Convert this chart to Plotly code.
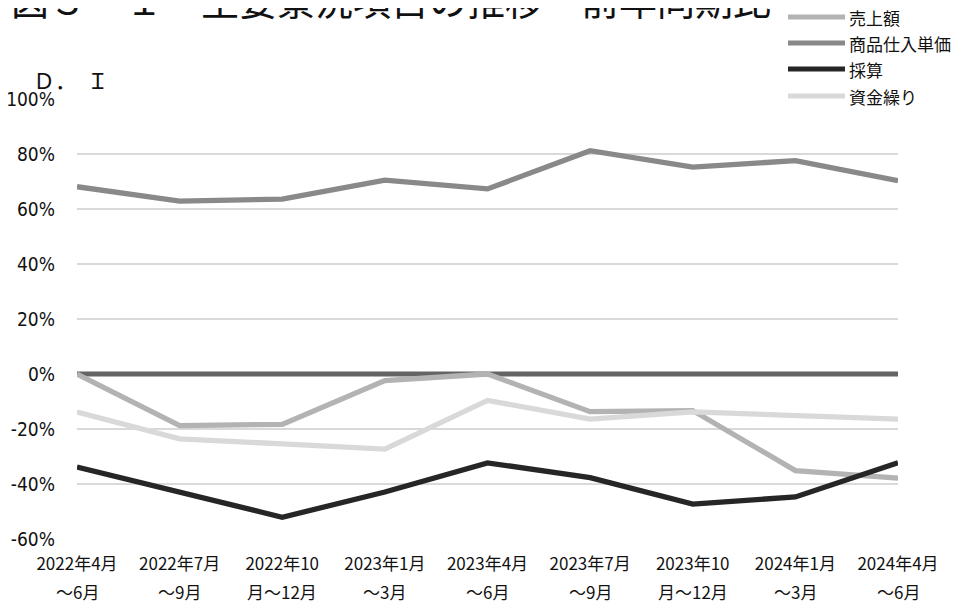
import plotly.graph_objects as go

# ---- data ----
cat_line1 = ["2022年4月", "2022年7月", "2022年10", "2023年1月", "2023年4月",
             "2023年7月", "2023年10", "2024年1月", "2024年4月"]
cat_line2 = ["～6月", "～9月", "月～12月", "～3月", "～6月",
             "～9月", "月～12月", "～3月", "～6月"]

series_names = ["売上額", "商品仕入単価", "採算", "資金繰り"]
sales = [0, -18.8, -18.3, -2.4, 0, -13.7, -13.3, -35.1, -37.9]
purchase_price = [68.1, 62.9, 63.6, 70.5, 67.3, 81.2, 75.2, 77.6, 70.3]
profit = [-33.8, -42.9, -52.1, -42.9, -32.3, -37.7, -47.3, -44.7, -32.3]
funding = [-13.8, -23.6, -25.4, -27.3, -9.6, -16.4, -13.8, -15.0, -16.4]
baseline = [0, 0, 0, 0, 0, 0, 0, 0, 0]

y_ticks = [-60, -40, -20, 0, 20, 40, 60, 80, 100]
title_text = "図３－１　主要景況項目の推移－前年同期比－"
y_title = "Ｄ．&nbsp;&nbsp;Ｉ"

# ---- styling ----
OFF = 8  # page body margin
W, H = 952, 595
L, R, T, B = 69, 62, 91, 64
PW, PH = W - L - R, H - T - B
colors = ["#b3b3b3", "#898989", "#262626", "#d9d9d9"]
base_color = "#646464"
jp = "Noto Sans CJK JP"


def px_x(px):
    return (px - OFF - L) / PW


def px_y(py):
    return (H - B - (py - OFF)) / PH


fig = go.Figure()
fig.add_trace(go.Scatter(x=cat_line1, y=baseline, mode="lines",
                         line=dict(color=base_color, width=5),
                         showlegend=False, hoverinfo="skip"))
for name, vals, col in zip(series_names, [sales, purchase_price, profit, funding], colors):
    fig.add_trace(go.Scatter(x=cat_line1, y=vals, mode="lines", name=name,
                             line=dict(color=col, width=5.3), showlegend=False))

annotations = []
# title
annotations.append(dict(text=title_text, x=px_x(9), y=px_y(-2), xref="paper", yref="paper",
                        xanchor="left", yanchor="middle", showarrow=False,
                        font=dict(family=jp, size=38, color="#111")))
# D.I label
annotations.append(dict(text=y_title, x=px_x(31), y=px_y(79), xref="paper", yref="paper",
                        xanchor="left", yanchor="middle", showarrow=False,
                        font=dict(family=jp, size=22, color="#111")))
# second line of category labels
for c1, c2 in zip(cat_line1, cat_line2):
    annotations.append(dict(text=c2, x=c1, y=px_y(591), xref="x", yref="paper",
                            xanchor="center", yanchor="middle", showarrow=False,
                            font=dict(family=jp, size=17, color="#111")))

# custom legend
shapes = []
leg_y = [17, 43, 69, 96]
for name, col, py in zip(series_names, colors, leg_y):
    shapes.append(dict(type="line", xref="paper", yref="paper",
                       x0=px_x(788), x1=px_x(845), y0=px_y(py), y1=px_y(py),
                       line=dict(color=col, width=5)))
    annotations.append(dict(text=name, x=px_x(847), y=px_y(py), xref="paper", yref="paper",
                            xanchor="left", yanchor="middle", showarrow=False,
                            font=dict(family=jp, size=17, color="#111")))

fig.update_layout(
    width=W, height=H,
    margin=dict(l=L, r=R, t=T, b=B),
    paper_bgcolor="white", plot_bgcolor="white",
    showlegend=False,
    annotations=annotations, shapes=shapes,
    xaxis=dict(type="category", range=[0, len(cat_line1) - 1], showgrid=False,
               zeroline=False, showline=False, ticks="", tickangle=0,
               automargin=False,
               tickfont=dict(family=jp, size=17, color="#111"),
               ticklabelstandoff=13),
    yaxis=dict(range=[-60, 100], tickvals=y_ticks,
               ticktext=[f"{v}%" for v in y_ticks],
               showgrid=True, gridcolor="#d9d9d9", gridwidth=1.5,
               zeroline=False, showline=False, ticks="", automargin=False,
               tickfont=dict(family="DejaVu Sans Condensed, sans-serif",
                             size=19, color="#111"),
               ticklabelstandoff=21),
)

fig.write_html("out.html")
